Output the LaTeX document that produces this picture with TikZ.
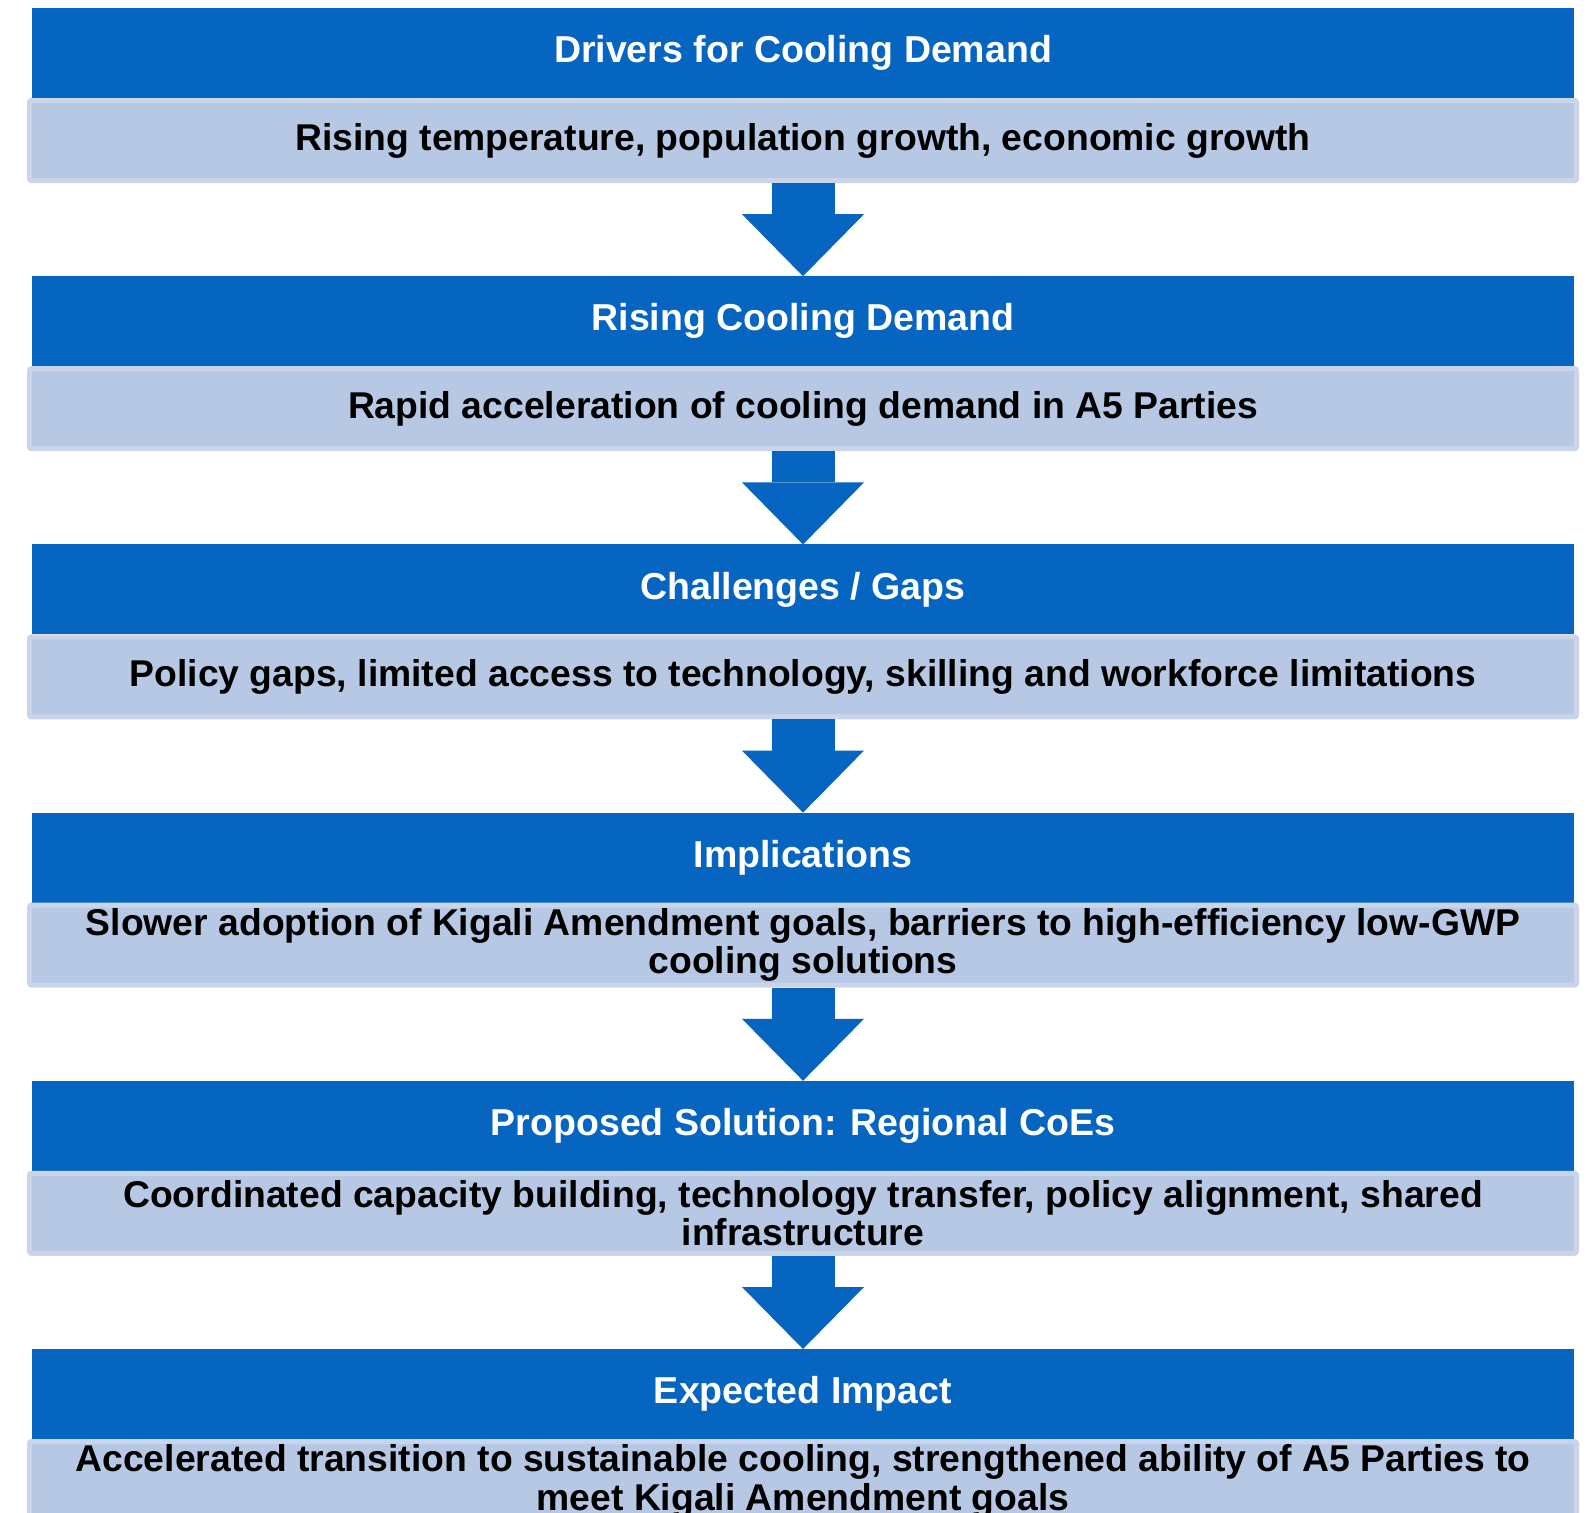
\documentclass[tikz,border=0pt]{standalone}
\usepackage{fontspec}
\setmainfont{Liberation Sans}
\usetikzlibrary{arrows.meta}
\usetikzlibrary{positioning}

\definecolor{coolblue}{RGB}{5,101,192}
\definecolor{paleblue}{RGB}{183,200,228}
\definecolor{paleedge}{RGB}{202,213,234}

\begin{document}
\begin{tikzpicture}[x=1pt, y=1pt,
    header/.style={
      fill=coolblue, text=white, inner sep=0, outer sep=0,
      minimum width=1542pt, minimum height=90pt,
      font=\fontsize{37.5}{38}\selectfont\bfseries
    },
    detail/.style={
      fill=paleblue, draw=paleedge, line width=5pt, rounded corners=2pt,
      inner sep=0, align=center,
      minimum width=1547pt, minimum height=80pt,
      font=\fontsize{37.3}{38.5}\selectfont\bfseries
    },
    flow/.style={
      coolblue, line width=63pt,
      -{Triangle[length=62pt, width=122pt, line width=0pt]}
    }
  ]
  \fill[white] (0,0) rectangle (1592,-1512);
  \useasboundingbox (0,0) rectangle (1592,-1512);

  \node[header] (h1) at (803,-53) {Drivers for Cooling Demand};
  \node[detail, below=0pt of h1] (b1) {Rising temperature, population growth, economic growth};

  \node[header, below=93.2pt of b1] (h2) {Rising Cooling Demand};
  \node[detail, below=0pt of h2] (b2) {Rapid acceleration of cooling demand in A5 Parties};

  \node[header, below=93.2pt of b2] (h3) {Challenges / Gaps};
  \node[detail, below=0pt of h3] (b3) {Policy gaps, limited access to technology, skilling and workforce limitations};

  \node[header, below=93.2pt of b3] (h4) {Implications};
  \node[detail, below=0pt of h4] (b4) {Slower adoption of Kigali Amendment goals, barriers to high-efficiency low-GWP\\cooling solutions};

  \node[header, below=93.2pt of b4] (h5) {Proposed Solution: Regional CoEs};
  \node[detail, below=0pt of h5] (b5) {Coordinated capacity building, technology transfer, policy alignment, shared\\infrastructure};

  \node[header, below=93.2pt of b5] (h6) {Expected Impact};
  \node[detail, below=0pt of h6] (b6) {Accelerated transition to sustainable cooling, strengthened ability of A5 Parties to\\meet Kigali Amendment goals};

  \draw[flow] (b1) to (h2);
  \draw[flow] (b2) to (h3);
  \draw[flow] (b3) to (h4);
  \draw[flow] (b4) to (h5);
  \draw[flow] (b5) to (h6);
\end{tikzpicture}
\end{document}
